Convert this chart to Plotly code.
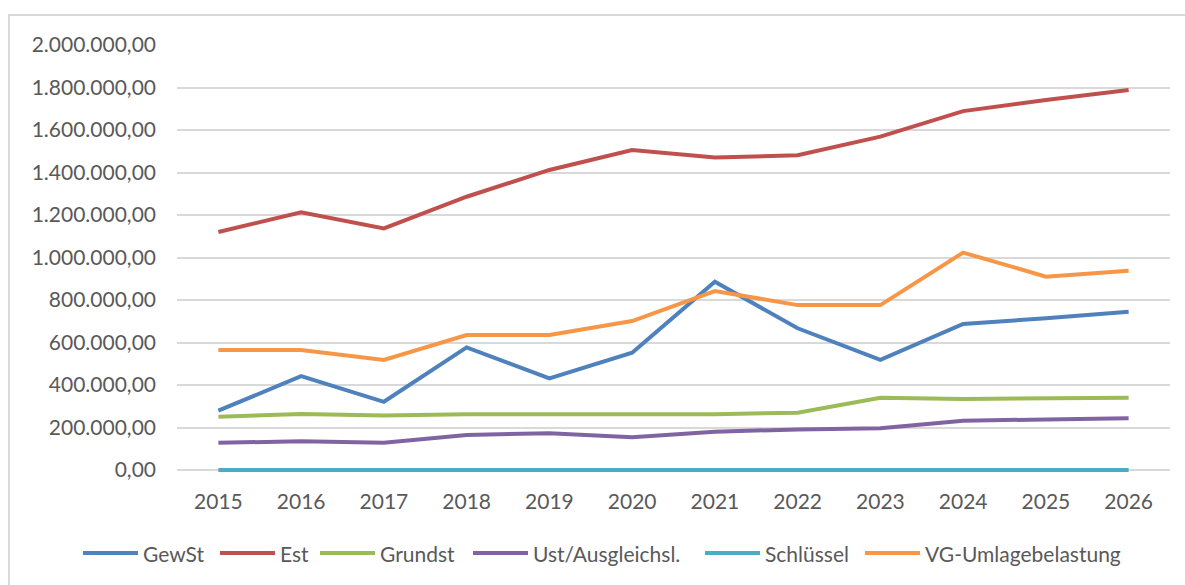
import plotly.graph_objects as go

# Jahre und Werte je Position (EUR)
years = [2015, 2016, 2017, 2018, 2019, 2020, 2021, 2022, 2023, 2024, 2025, 2026]
gewst = [279000, 442000, 321000, 577000, 431000, 552000, 886000, 667000, 518000, 687000, 714000, 745000]
est = [1120000, 1213000, 1137000, 1286000, 1412000, 1506000, 1471000, 1481000, 1569000, 1689000, 1741000, 1788000]
grundst = [251000, 263000, 257000, 262000, 262000, 262000, 262000, 270000, 340000, 334000, 339000, 340000]
ust = [128000, 135000, 128000, 165000, 173000, 154000, 180000, 191000, 196000, 232000, 238000, 243000]
schluessel = [0, 0, 0, 0, 0, 0, 0, 0, 0, 0, 0, 0]
vg_umlage = [565000, 565000, 518000, 635000, 635000, 701000, 842000, 776000, 776000, 1023000, 910000, 938000]

series_names = ["GewSt", "Est", "Grundst", "Ust/Ausgleichsl.", "Schlüssel", "VG-Umlagebelastung"]
series_values = [gewst, est, grundst, ust, schluessel, vg_umlage]
colors = ["#4F81BD", "#C0504D", "#9BBB59", "#8064A2", "#4BACC6", "#F79646"]

y_ticks = [0, 200000, 400000, 600000, 800000, 1000000, 1200000, 1400000, 1600000, 1800000, 2000000]
y_tick_text = ["0,00", "200.000,00", "400.000,00", "600.000,00", "800.000,00", "1.000.000,00",
               "1.200.000,00", "1.400.000,00", "1.600.000,00", "1.800.000,00", "2.000.000,00"]

W, H = 1185, 585
FONT = "Lato, Calibri, Carlito, sans-serif"
FONT_SIZE = 21
TEXT_COLOR = "#595959"

# Plot area in pixels; a little room below zero so the zero line is not cut in half
PLOT_L, PLOT_R, PLOT_T, ZERO_Y = 177, 1170, 45, 470
Y_MAX = 2000000
PAD_PX = 3
units_per_px = Y_MAX / (ZERO_Y - PLOT_T)
y_min = -PAD_PX * units_per_px
PLOT_B = ZERO_Y + PAD_PX


def px_x(x):
    return (x - PLOT_L) / (PLOT_R - PLOT_L)


def px_y(y):
    return (PLOT_B - y) / (PLOT_B - PLOT_T)


fig = go.Figure()
for name, vals, col in zip(series_names, series_values, colors):
    fig.add_trace(go.Scatter(
        x=years, y=vals, name=name, mode="lines",
        line=dict(color=col, width=4),
        showlegend=False,
    ))

# Legend row below the plot: a short line and the series name per entry
legend_line_x = [83, 220, 320, 473, 705, 865]
legend_line_len = 55
legend_gap = 5
legend_y_px = 553
shapes = []
annotations = []
for name, col, x0 in zip(series_names, colors, legend_line_x):
    shapes.append(dict(
        type="line", xref="paper", yref="paper",
        x0=px_x(x0), x1=px_x(x0 + legend_line_len),
        y0=px_y(legend_y_px), y1=px_y(legend_y_px),
        line=dict(color=col, width=4),
    ))
    annotations.append(dict(
        text=name, showarrow=False, xref="paper", yref="paper",
        x=px_x(x0 + legend_line_len + legend_gap), xanchor="left",
        y=px_y(legend_y_px), yanchor="middle",
        xshift=-2,
        font=dict(family=FONT, size=FONT_SIZE, color=TEXT_COLOR),
    ))

# Chart frame (top and left edges visible)
shapes.append(dict(
    type="rect", xref="paper", yref="paper", layer="below",
    x0=px_x(9), x1=px_x(1200), y0=px_y(600), y1=px_y(15),
    line=dict(color="#D9D9D9", width=2),
))

fig.update_layout(
    width=W, height=H,
    margin=dict(l=PLOT_L, r=W - PLOT_R, t=PLOT_T, b=H - PLOT_B),
    paper_bgcolor="white", plot_bgcolor="white",
    font=dict(family=FONT, size=FONT_SIZE, color=TEXT_COLOR),
    shapes=shapes, annotations=annotations,
    showlegend=False,
    xaxis=dict(
        range=[2014.5, 2026.5], tickmode="array", tickvals=years,
        ticktext=[str(y) for y in years],
        showgrid=False, zeroline=False, showline=False, ticks="",
        ticklabelstandoff=14,
        tickfont=dict(family=FONT, size=FONT_SIZE, color=TEXT_COLOR),
    ),
    yaxis=dict(
        range=[y_min, Y_MAX], tickmode="array", tickvals=y_ticks, ticktext=y_tick_text,
        showgrid=True, gridcolor="#D9D9D9", gridwidth=1.5,
        zeroline=False, showline=False, ticks="",
        ticklabelstandoff=20,
        tickfont=dict(family=FONT, size=FONT_SIZE, color=TEXT_COLOR),
    ),
)

fig.write_html("out.html")
